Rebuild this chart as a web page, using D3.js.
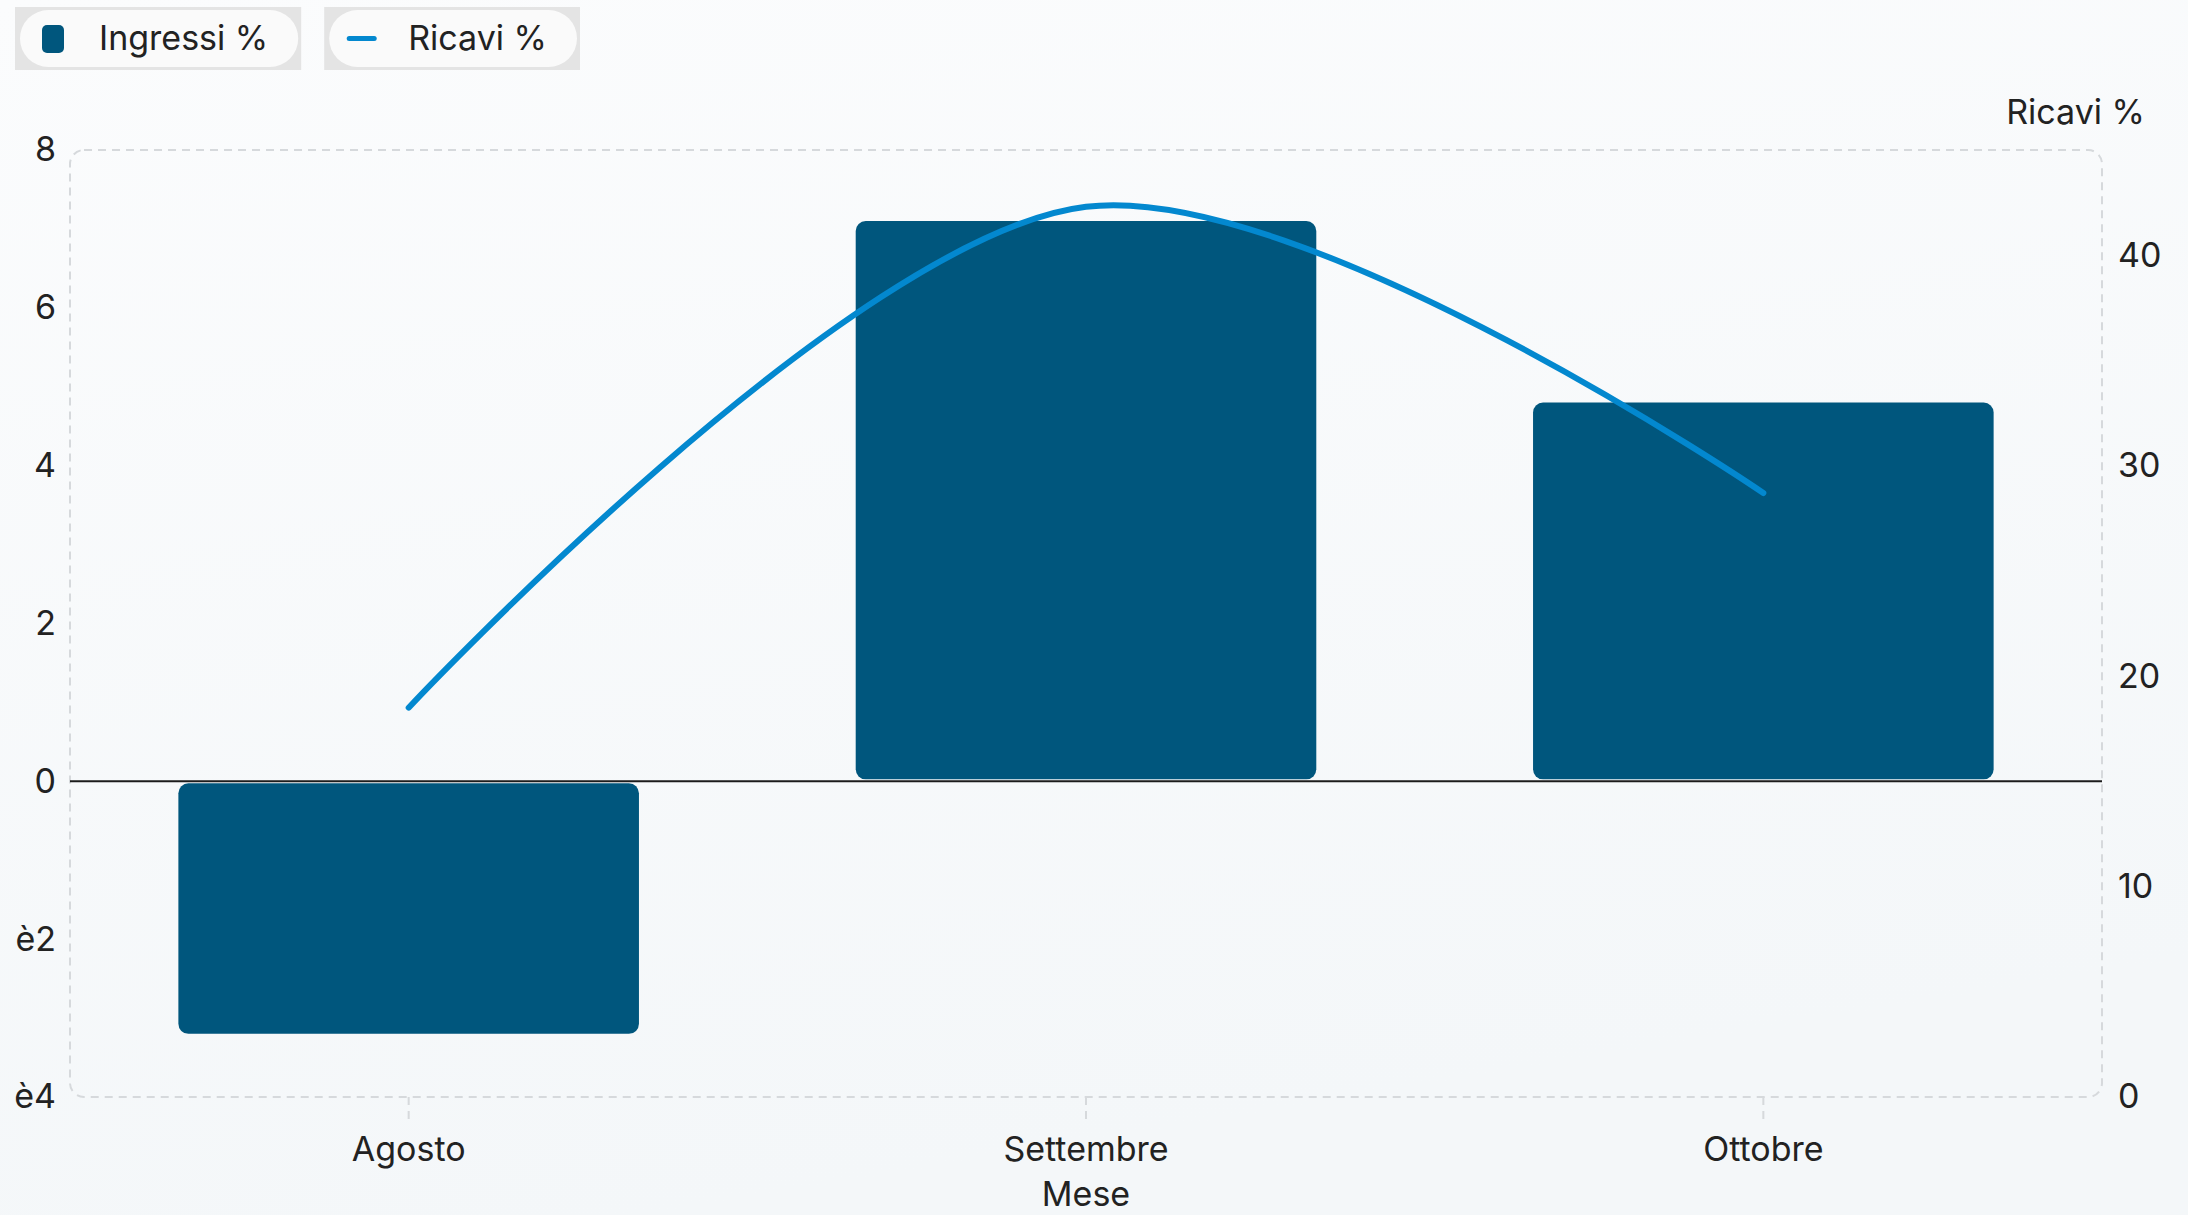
<!DOCTYPE html>
<html>
<head>
<meta charset="utf-8">
<script src="https://cdn.jsdelivr.net/npm/d3@7"></script>
<style>
  html, body { margin: 0; padding: 0; background: #f7f9fb; }
  svg { display: block; font-family: Inter, "Noto Sans", sans-serif; }
</style>
</head>
<body>
<svg id="chart" width="2188" height="1215"></svg>
<script>
// ---- data ----
const months = ["Agosto", "Settembre", "Ottobre"];
const ingressi = [-3.2, 7.1, 4.8];
const ricavi = [18.5, 42.3, 28.7];
const leftTicks = [-4, -2, 0, 2, 4, 6, 8];
const leftTickLabels = ["è4", "è2", "0", "2", "4", "6", "8"];
const rightTicks = [0, 10, 20, 30, 40];
const seriesNames = ["Ingressi %", "Ricavi %"];
const xTitle = "Mese";
const rightTitle = "Ricavi %";

// ---- layout ----
const W = 2188, H = 1215;
const margin = { top: 150, right: 86, bottom: 118, left: 70 };
const svg = d3.select("#chart");

const defs = svg.append("defs");
const grad = defs.append("linearGradient").attr("id", "bg").attr("x1", 0).attr("y1", 0).attr("x2", 0.3).attr("y2", 1);
grad.append("stop").attr("offset", 0).attr("stop-color", "#fbfcfd");
grad.append("stop").attr("offset", 1).attr("stop-color", "#f4f7f9");
svg.append("rect").attr("width", W).attr("height", H).attr("fill", "url(#bg)");

const x = d3.scaleBand().domain(months)
  .range([margin.left, W - margin.right])
  .paddingInner(0.32).paddingOuter(0.16);
const yL = d3.scaleLinear().domain([-4, 8]).range([H - margin.bottom, margin.top]);
const yR = d3.scaleLinear().domain([0, 45]).range([H - margin.bottom, margin.top]);

const fontSize = 34;
const textColor = "#222222";
const gridColor = "#d6d9dc";

// frame
svg.append("rect")
  .attr("x", margin.left).attr("y", margin.top)
  .attr("width", W - margin.left - margin.right)
  .attr("height", H - margin.top - margin.bottom)
  .attr("rx", 14).attr("ry", 14)
  .attr("fill", "none").attr("stroke", gridColor)
  .attr("stroke-width", 2).attr("stroke-dasharray", "8,6");

// bottom axis
const xAxis = d3.axisBottom(x).tickSize(24).tickPadding(14);
const gx = svg.append("g").attr("transform", `translate(0,${H - margin.bottom})`).call(xAxis);
gx.select(".domain").remove();
gx.selectAll(".tick line").attr("stroke", gridColor).attr("stroke-width", 2).attr("stroke-dasharray", "8,6");
gx.selectAll(".tick text").attr("font-size", fontSize).attr("fill", textColor)
  .attr("font-family", "Inter, sans-serif").attr("dy", null).attr("y", 64);

// left axis
const yAxisL = d3.axisLeft(yL).tickValues(leftTicks)
  .tickFormat((d, i) => leftTickLabels[i]).tickSize(0).tickPadding(14);
const gl = svg.append("g").attr("transform", `translate(${margin.left},0)`).call(yAxisL);
gl.select(".domain").remove();
gl.selectAll(".tick text").attr("font-size", fontSize).attr("fill", textColor)
  .attr("font-family", "Inter, sans-serif");

// right axis
const yAxisR = d3.axisRight(yR).tickValues(rightTicks).tickSize(0).tickPadding(16);
const gr = svg.append("g").attr("transform", `translate(${W - margin.right},0)`).call(yAxisR);
gr.select(".domain").remove();
gr.selectAll(".tick text").attr("font-size", fontSize).attr("fill", textColor)
  .attr("font-family", "Inter, sans-serif");

// right axis title
svg.append("text").attr("x", W - 43).attr("y", 124)
  .attr("text-anchor", "end").attr("font-size", fontSize).attr("fill", textColor)
  .text(rightTitle);

// x title
svg.append("text").attr("x", (margin.left + W - margin.right) / 2).attr("y", 1206)
  .attr("text-anchor", "middle").attr("font-size", fontSize).attr("fill", textColor)
  .text(xTitle);

// bars
const barColor = "#00567d";
svg.append("g").selectAll("rect").data(months).join("rect")
  .attr("x", d => x(d))
  .attr("width", x.bandwidth())
  .attr("y", (d, i) => ingressi[i] >= 0 ? yL(ingressi[i]) : yL(0) + 2)
  .attr("height", (d, i) => Math.abs(yL(ingressi[i]) - yL(0)) - 2)
  .attr("rx", 10).attr("ry", 10)
  .attr("fill", barColor);

// zero line
svg.append("line")
  .attr("x1", margin.left).attr("x2", W - margin.right)
  .attr("y1", yL(0)).attr("y2", yL(0))
  .attr("stroke", "#1c1c1c").attr("stroke-width", 2);

// line
const lineColor = "#0388cf";
const line = d3.line()
  .x((d, i) => x(months[i]) + x.bandwidth() / 2)
  .y(d => yR(d))
  .curve(d3.curveCatmullRom);
svg.append("path").datum(ricavi)
  .attr("d", line)
  .attr("fill", "none").attr("stroke", lineColor)
  .attr("stroke-width", 6).attr("stroke-linecap", "round");

// legend
const legend = svg.append("g");
let lx = 15;
seriesNames.forEach((name, i) => {
  const g = legend.append("g");
  const outer = g.append("rect").attr("x", lx).attr("y", 7).attr("height", 63).attr("fill", "#e4e4e4");
  const pill = g.append("rect").attr("x", lx + 5).attr("y", 10).attr("height", 57)
    .attr("rx", 28.5).attr("ry", 28.5).attr("fill", "#fafafa");
  if (i === 0) {
    g.append("rect").attr("x", lx + 27).attr("y", 25).attr("width", 22).attr("height", 28)
      .attr("rx", 5).attr("fill", barColor);
  } else {
    g.append("line").attr("x1", lx + 25).attr("x2", lx + 50).attr("y1", 38.5).attr("y2", 38.5)
      .attr("stroke", lineColor).attr("stroke-width", 5).attr("stroke-linecap", "round");
  }
  const t = g.append("text").attr("x", lx + 84).attr("y", 50)
    .attr("font-size", fontSize).attr("fill", textColor).text(name);
  const tw = t.node().getComputedTextLength();
  const w = 84 + tw + 33;
  outer.attr("width", w);
  pill.attr("width", w - 8);
  lx += w + 23;
});
</script>
</body>
</html>
